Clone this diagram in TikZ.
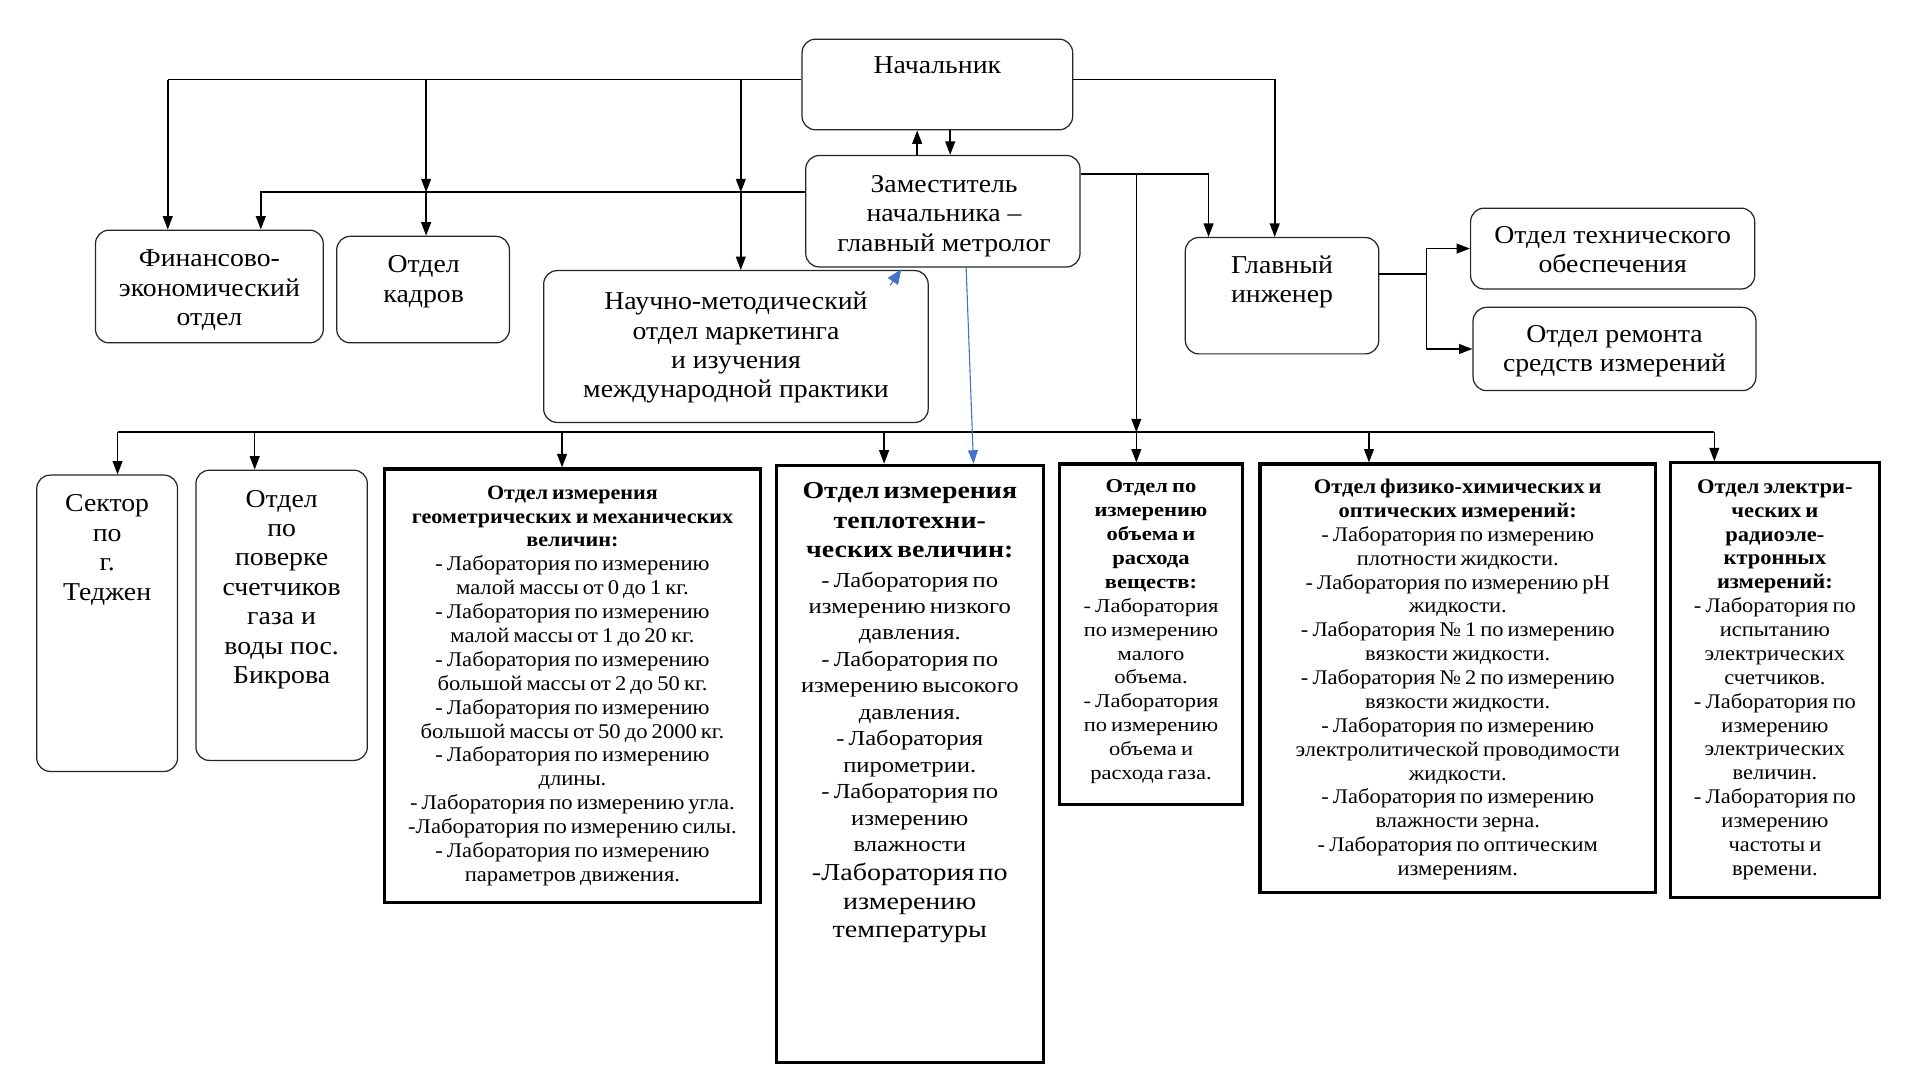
\documentclass[tikz,border=0pt]{standalone}
\usepackage{fontspec}
\setmainfont[FakeStretch=1.08]{Liberation Serif}
\newfontfamily\wideA[FakeStretch=1.15]{Liberation Serif}
\usetikzlibrary{arrows.meta}
\definecolor{bluec}{RGB}{68,114,196}
\setlength{\parskip}{0pt}
\begin{document}
\begin{tikzpicture}[x=1pt,y=-1pt,
  rbox/.style={draw=black!85, line width=1pt, rounded corners=11pt, inner sep=0pt},
  tbox/.style={draw=black, line width=2.6pt, inner sep=0pt},
  ln/.style={line width=1.3pt, draw=black},
  arr/.style={ln, -{Triangle[length=11pt,width=8pt]}},
  barr/.style={line width=0.9pt, draw=bluec, -{Triangle[length=11pt,width=8pt]}},
  bhead/.style={line width=0.9pt, draw=bluec, fill=bluec, -{Triangle[length=12pt,width=10pt]}},
  big/.style={font=\fontsize{21}{24}\selectfont, align=center, inner sep=0pt},
  txt/.style={inner sep=0pt, align=center},
]
\useasboundingbox[fill=white] (0,0) rectangle (1568,882);

% ---------- upper boxes ----------
\node[rbox, minimum width=221pt, minimum height=74pt] (nach) at (765.5,69) {};
\node[big] (nachT) at (765.5,53) {Начальник};

\node[rbox, minimum width=224pt, minimum height=91pt] (zam) at (770,172.5) {};
\node[big] (zamT) at (771,176.5) {Заместитель\\ начальника –\\ главный метролог};

\node[rbox, minimum width=186pt, minimum height=92pt] (fin) at (171,234) {};
\node[big] (finT) at (171,237) {Финансово-\\ экономический\\ отдел};

\node[rbox, minimum width=141pt, minimum height=87pt] (kad) at (345.5,236.5) {};
\node[big] (kadT) at (346,230) {Отдел\\ кадров};

\node[rbox, minimum width=314pt, minimum height=124pt] (nauch) at (601,283) {};
\node[big] (nauchT) at (601,284) {Научно-методический\\ отдел маркетинга\\ и изучения\\ международной практики};

\node[rbox, minimum width=158pt, minimum height=95pt] (glav) at (1047,241.5) {};
\node[big] (glavT) at (1047,230) {Главный\\ инженер};

\node[rbox, minimum width=232pt, minimum height=66pt] (tech) at (1317,203) {};
\node[big] (techT) at (1317,204) {Отдел технического\\ обеспечения};

\node[rbox, minimum width=231pt, minimum height=68pt] (rem) at (1318.5,285) {};
\node[big] (remT) at (1318.5,287) {Отдел ремонта\\ средств измерений};

% ---------- lower boxes ----------
\node[rbox, minimum width=115pt, minimum height=242pt] (sek) at (87.5,509) {};
\node[big, anchor=north] (sekT) at (87.5,404) {Сектор\\ по\\ г.\\ Теджен};

\node[rbox, minimum width=140pt, minimum height=237pt] (pov) at (230,502.5) {};
\node[big, anchor=north] (povT) at (230,400) {Отдел\\ по\\ поверке\\ счетчиков\\ газа и\\ воды пос.\\ Бикрова};

\node[tbox, minimum width=307pt, minimum height=354pt] (geo) at (467.5,560) {};
\node[txt, text width=303pt] (geoT) at (467.5,560) {%
{\bfseries\fontsize{16.7}{19.5}\selectfont Отдел измерения\\ геометрических и механических\\ величин:\par}%
{\fontsize{17.1}{19.5}\selectfont - Лаборатория по измерению\\ малой массы от 0 до 1 кг.\\ - Лаборатория по измерению\\ малой массы от 1 до 20 кг.\\ - Лаборатория по измерению\\ большой массы от 2 до 50 кг.\\ - Лаборатория по измерению\\ большой массы от 50 до 2000 кг.\\ - Лаборатория по измерению\\ длины.\\ - Лаборатория по измерению угла.\\ -Лаборатория по измерению силы.\\ - Лаборатория по измерению\\ параметров движения.\par}};

\node[tbox, minimum width=218pt, minimum height=488pt] (tep) at (743,624) {};
\node[txt, text width=214pt, anchor=north] (tepT) at (743,394) {\wideA
{\bfseries\fontsize{19.8}{24}\selectfont Отдел измерения\\ теплотехни-\\ ческих величин:\par}%
{\fontsize{17.5}{21.6}\selectfont\vspace*{2.5pt}- Лаборатория по\\ измерению низкого\\ давления.\\ - Лаборатория по\\ измерению высокого\\ давления.\\ - Лаборатория\\ пирометрии.\\ - Лаборатория по\\ измерению\\ влажности\par}%
{\fontsize{19.9}{23.5}\selectfont -Лаборатория по\\ измерению\\ температуры\par}};

\node[tbox, minimum width=150pt, minimum height=278pt] (obj) at (940,518) {};
\node[txt, text width=146pt] (objT) at (940,516) {\wideA
{\bfseries\fontsize{16}{19.5}\selectfont Отдел по\\ измерению\\ объема и\\ расхода\\ веществ:\par}%
{\fontsize{16}{19.5}\selectfont - Лаборатория\\ по измерению\\ малого\\ объема.\\ - Лаборатория\\ по измерению\\ объема и\\ расхода газа.\par}};

\node[tbox, minimum width=323pt, minimum height=350pt] (fiz) at (1190.5,554) {};
\node[txt, text width=318pt] (fizT) at (1190.5,555) {%
{\bfseries\fontsize{17}{19.5}\selectfont Отдел физико-химических и\\ оптических измерений:\par}%
{\fontsize{17}{19.5}\selectfont - Лаборатория по измерению\\ плотности жидкости.\\ - Лаборатория по измерению pH\\ жидкости.\\ - Лаборатория № 1 по измерению\\ вязкости жидкости.\\ - Лаборатория № 2 по измерению\\ вязкости жидкости.\\ - Лаборатория по измерению\\ электролитической проводимости\\ жидкости.\\ - Лаборатория по измерению\\ влажности зерна.\\ - Лаборатория по оптическим\\ измерениям.\par}};

\node[tbox, minimum width=171pt, minimum height=355pt] (ele) at (1449.5,555.5) {};
\node[txt, text width=166pt] (eleT) at (1449.5,555) {%
{\bfseries\fontsize{17}{19.5}\selectfont Отдел электри-\\ ческих и\\ радиоэле-\\ ктронных\\ измерений:\par}%
{\fontsize{17}{19.5}\selectfont - Лаборатория по\\ испытанию\\ электрических\\ счетчиков.\\ - Лаборатория по\\ измерению\\ электрических\\ величин.\\ - Лаборатория по\\ измерению\\ частоты и\\ времени.\par}};

% ---------- connectors ----------
\coordinate (a1) at (137,65);
\coordinate (a2) at (348,65);
\coordinate (a3) at (605,65);
\coordinate (b1) at (213,157);
\draw[ln] (a1 -| nach.west) -- (a1);
\draw[arr] (a1) -- (a1 |- fin.north);
\draw[arr] (a2) -- (a2 |- b1);
\draw[arr] (a2 |- b1) -- (a2 |- kad.north);
\draw[arr] (a3) -- (a3 |- b1);
\draw[arr] (a3 |- b1) -- (a3 |- nauch.north);
\draw[arr] (b1 -| zam.west) -- (b1) -- (b1 |- fin.north);

\coordinate (u) at (749,0);
\coordinate (d) at (776,0);
\draw[arr] (u |- zam.north) -- (u |- nach.south);
\draw[arr] (d |- nach.south) -- (d |- zam.north);

\coordinate (c1) at (987,142);
\coordinate (c2) at (928,142);
\coordinate (e1) at (1041,65);
\draw[arr] (c1 -| zam.east) -- (c1) -- (c1 |- glav.north);
\draw[arr] (e1 -| nach.east) -- (e1) -- (e1 |- glav.north);

\coordinate (g1) at (1165,224);
\draw[ln] (g1 -| glav.east) -- (g1);
\draw[arr] (g1) |- (tech.west);
\draw[arr] (g1) |- (rem.west);

\coordinate (busL) at (96,353);
\coordinate (busR) at (1400,353);
\draw[ln] (busL) -- (busR);
\draw[arr] (c2) -- (c2 |- busL);
\draw[arr] (c2 |- busL) -- (c2 |- obj.north);
\draw[arr] (busL) -- (busL |- sek.north);
\coordinate (p2) at (208,353);
\coordinate (p3) at (459,353);
\coordinate (p4) at (722,353);
\coordinate (p6) at (1118,353);
\draw[arr] (p2) -- (p2 |- pov.north);
\draw[arr] (p3) -- (p3 |- geo.north);
\draw[arr] (p4) -- (p4 |- tep.north);
\draw[arr] (p6) -- (p6 |- fiz.north);
\draw[arr] (busR) -- (busR |- ele.north);

% blue connectors
\coordinate (bt) at (789,0);
\coordinate (bb) at (795,0);
\draw[barr] (bt |- zam.south) -- (bb |- tep.north);
\coordinate (bh1) at (727,233);
\coordinate (bh2) at (736,220);
\draw[bhead] (bh1) -- (bh2);
\end{tikzpicture}
\end{document}
